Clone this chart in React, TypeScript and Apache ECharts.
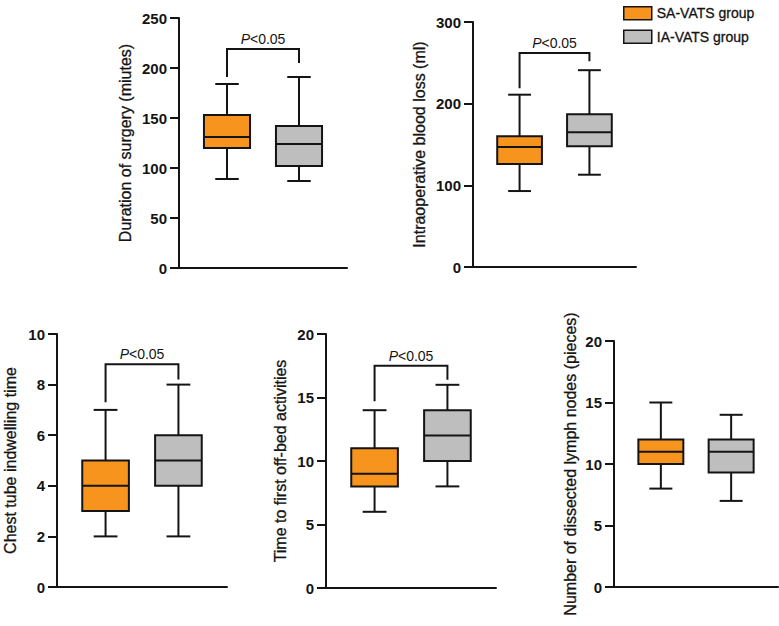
import React, { useEffect, useRef } from "react";
import * as echarts from "echarts";

// Group names shown in the legend
const groups = ["SA-VATS group", "IA-VATS group"];

// Box summaries: [min, Q1, median, Q3, max]
const durationSA = [89, 120, 131, 153, 184];
const durationIA = [87, 102, 124, 142, 191];
const bloodLossSA = [93, 126, 147, 160, 211];
const bloodLossIA = [113, 148, 165, 187, 241];
const chestTubeSA = [2, 3, 4, 5, 7];
const chestTubeIA = [2, 4, 5, 6, 8];
const offBedSA = [6, 8, 9, 11, 14];
const offBedIA = [8, 10, 12, 14, 16];
const lymphSA = [8, 10, 11, 12, 15];
const lymphIA = [7, 9.3, 11, 12, 14];

// Significance brackets: [left leg end, bracket top, right leg end]
const durationBracket = [191, 219, 205];
const bloodLossBracket = [219, 262, 252];
const chestTubeBracket = [7.3, 8.8, 8.2];
const offBedBracket = [14.7, 17.5, 16.4];

const pLabel = "P<0.05";

// Axis titles and value ranges
const axisTitles = [
  "Duration of surgery (miutes)",
  "Intraoperative blood loss (ml)",
  "Chest tube indwelling time",
  "Time to first off-bed activities",
  "Number of dissected lymph nodes (pieces)",
];
const axisMax = [250, 300, 10, 20, 20];
const axisStep = [50, 100, 2, 5, 5];

const panelData = [
  [durationSA, durationIA],
  [bloodLossSA, bloodLossIA],
  [chestTubeSA, chestTubeIA],
  [offBedSA, offBedIA],
  [lymphSA, lymphIA],
];
const panelBrackets = [durationBracket, bloodLossBracket, chestTubeBracket, offBedBracket, null];

// Layout of each panel's plotting area
const panelGrids = [
  { left: 179, top: 18, width: 168, height: 250, nameGap: 46 },
  { left: 473, top: 22, width: 163, height: 245, nameGap: 46 },
  { left: 57, top: 334, width: 170, height: 253, nameGap: 39 },
  { left: 326, top: 334, width: 170, height: 254, nameGap: 38 },
  { left: 614, top: 341, width: 164, height: 246, nameGap: 36 },
];

const FONT = "'Liberation Sans', Arial, Helvetica, sans-serif";
const INK = "#141414";
const fills = ["#F7941D", "#BEBEBE"];
const groupX = [2, 5]; // box centres on the 0..7 horizontal scale
const BOX_HALF = 0.96;
const CAP_HALF = 0.49;

function renderBox(params: any, api: any) {
  const x = api.value(0);
  const vMin = api.value(1);
  const q1 = api.value(2);
  const med = api.value(3);
  const q3 = api.value(4);
  const vMax = api.value(5);
  const fill = fills[api.value(6)];
  const cx = api.coord([x, 0])[0];
  const xl = api.coord([x - BOX_HALF, 0])[0];
  const xr = api.coord([x + BOX_HALF, 0])[0];
  const cl = api.coord([x - CAP_HALF, 0])[0];
  const cr = api.coord([x + CAP_HALF, 0])[0];
  const yMin = api.coord([x, vMin])[1];
  const yQ1 = api.coord([x, q1])[1];
  const yMed = api.coord([x, med])[1];
  const yQ3 = api.coord([x, q3])[1];
  const yMax = api.coord([x, vMax])[1];
  const stroke = { stroke: INK, lineWidth: 2 };
  return {
    type: "group",
    children: [
      { type: "line", shape: { x1: cx, y1: yMax, x2: cx, y2: yQ3 }, style: stroke },
      { type: "line", shape: { x1: cx, y1: yQ1, x2: cx, y2: yMin }, style: stroke },
      { type: "line", shape: { x1: cl, y1: yMax, x2: cr, y2: yMax }, style: stroke },
      { type: "line", shape: { x1: cl, y1: yMin, x2: cr, y2: yMin }, style: stroke },
      {
        type: "rect",
        shape: { x: xl, y: yQ3, width: xr - xl, height: yQ1 - yQ3 },
        style: { fill, stroke: INK, lineWidth: 2 },
      },
      { type: "line", shape: { x1: xl, y1: yMed, x2: xr, y2: yMed }, style: stroke },
    ],
  };
}

function renderBracket(params: any, api: any) {
  const x1 = api.value(0);
  const x2 = api.value(1);
  const pL = api.coord([x1, api.value(2)]);
  const pT1 = api.coord([x1, api.value(3)]);
  const pT2 = api.coord([x2, api.value(3)]);
  const pR = api.coord([x2, api.value(4)]);
  return {
    type: "group",
    children: [
      {
        type: "polyline",
        shape: { points: [pL, pT1, pT2, pR] },
        style: { stroke: INK, lineWidth: 2, fill: "none" },
      },
      {
        type: "text",
        x: (pT1[0] + pT2[0]) / 2,
        y: pT1[1] - 3,
        style: {
          text: "{i|P}" + pLabel.slice(1),
          align: "center",
          verticalAlign: "bottom",
          fill: INK,
          fontSize: 14,
          fontFamily: FONT,
          rich: {
            i: { fontStyle: "italic", fontSize: 14, fontFamily: FONT, fill: INK },
          },
        },
      },
    ],
  };
}

function buildOption() {
  const grid: any[] = [];
  const xAxis: any[] = [];
  const yAxis: any[] = [];
  const series: any[] = [];

  panelGrids.forEach((g, i) => {
    grid.push({ left: g.left, top: g.top, width: g.width, height: g.height });
    xAxis.push({
      type: "value",
      gridIndex: i,
      min: 0,
      max: 7,
      axisLine: { show: true, onZero: false, lineStyle: { color: INK, width: 2 } },
      axisTick: { show: false },
      axisLabel: { show: false },
      splitLine: { show: false },
    });
    yAxis.push({
      type: "value",
      gridIndex: i,
      min: 0,
      max: axisMax[i],
      interval: axisStep[i],
      name: axisTitles[i],
      nameLocation: "middle",
      nameGap: g.nameGap,
      nameTextStyle: {
        fontSize: 16,
        color: INK,
        fontFamily: FONT,
        textBorderColor: INK,
        textBorderWidth: 0.3,
      },
      axisLine: { show: true, lineStyle: { color: INK, width: 2 } },
      axisTick: { show: true, length: 9, lineStyle: { color: INK, width: 2 } },
      axisLabel: { fontSize: 15, fontWeight: "bold", color: INK, fontFamily: FONT, margin: 12 },
      splitLine: { show: false },
    });
    panelData[i].forEach((vals, gi) => {
      series.push({
        type: "custom",
        name: groups[gi],
        xAxisIndex: i,
        yAxisIndex: i,
        itemStyle: { color: fills[gi] },
        renderItem: renderBox,
        encode: { x: 0, y: [1, 2, 3, 4, 5] },
        data: [[groupX[gi], ...vals, gi]],
        silent: true,
      });
    });
    const br = panelBrackets[i];
    if (br) {
      series.push({
        type: "custom",
        name: "bracket-" + i,
        xAxisIndex: i,
        yAxisIndex: i,
        renderItem: renderBracket,
        encode: { x: [0, 1], y: [2, 3, 4] },
        data: [[groupX[0], groupX[1], ...br]],
        silent: true,
      });
    }
  });

  return {
    animation: false,
    backgroundColor: "#ffffff",
    textStyle: { fontFamily: FONT },
    legend: {
      orient: "vertical",
      left: 623,
      top: 6,
      padding: 0,
      itemWidth: 28,
      itemHeight: 13,
      itemGap: 9,
      icon: "rect",
      selectedMode: false,
      textStyle: {
        fontSize: 14,
        color: INK,
        fontFamily: FONT,
        textBorderColor: INK,
        textBorderWidth: 0.3,
      },
      data: groups.map((name, gi) => ({
        name,
        itemStyle: { color: fills[gi], borderColor: INK, borderWidth: 1.5 },
      })),
    },
    grid,
    xAxis,
    yAxis,
    series,
  };
}

export default function App() {
  const ref = useRef<HTMLDivElement>(null);
  useEffect(() => {
    if (!ref.current) return;
    const chart = echarts.init(ref.current, undefined, { renderer: "svg" });
    chart.setOption(buildOption() as any);
    return () => chart.dispose();
  }, []);
  return (
    <div
      ref={ref}
      style={{ position: "absolute", left: 0, top: 0, width: 779, height: 626, background: "#fff" }}
    />
  );
}
